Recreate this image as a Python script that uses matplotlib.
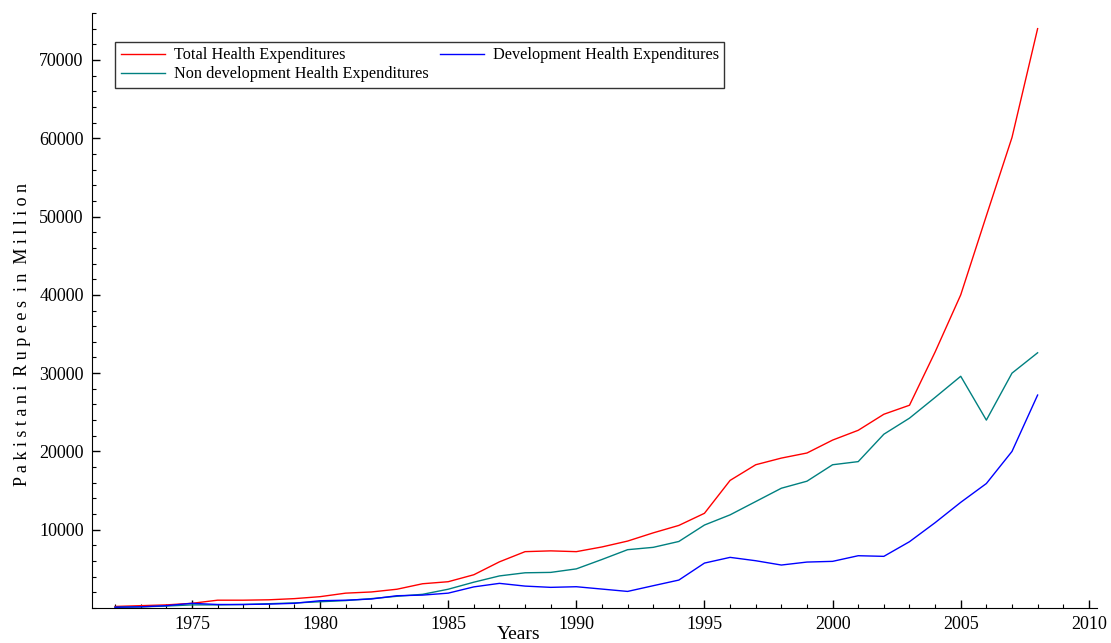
import matplotlib.pyplot as plt
from matplotlib.ticker import MultipleLocator, FixedLocator

years = list(range(1972, 2009))

total = [200, 300, 400, 600, 1000, 1000, 1050, 1200, 1450, 1900, 2050, 2400, 3100, 3360,
         4250, 5900, 7200, 7300, 7200, 7800, 8550, 9600, 10550, 12100, 16300, 18300, 19150,
         19800, 21450, 22700, 24750, 25900, 32700, 40000, 50100, 60100, 74000]

non_dev = [100, 150, 250, 400, 400, 450, 550, 650, 800, 950, 1200, 1500, 1750, 2400,
           3300, 4100, 4500, 4550, 5000, 6200, 7450, 7750, 8500, 10600, 11900, 13600, 15300,
           16200, 18300, 18700, 22200, 24250, 26900, 29600, 24000, 30000, 32600]

dev = [100, 150, 300, 600, 450, 450, 500, 600, 930, 1000, 1150, 1570, 1650, 1900,
       2700, 3150, 2800, 2640, 2720, 2420, 2120, 2850, 3570, 5740, 6470, 6040, 5490,
       5870, 5960, 6680, 6600, 8470, 10900, 13500, 15900, 20000, 27200]

plt.rcParams['font.family'] = ['Liberation Serif', 'DejaVu Serif']

fig = plt.figure(figsize=(11.11, 6.43), dpi=100)
ax = fig.add_axes([0.0828, 0.0544, 0.9042, 0.9254])

ax.plot(years, total, color='#ff0000', lw=1, label='Total Health Expenditures')
ax.plot(years, non_dev, color='#008080', lw=1, label='Non development Health Expenditures')
ax.plot(years, dev, color='#0000ff', lw=1, label='Development Health Expenditures')

ax.set_xlim(1971.1, 2010.3)
ax.set_ylim(0, 76000)

ax.spines['top'].set_visible(False)
ax.spines['right'].set_visible(False)

ax.xaxis.set_major_locator(MultipleLocator(5))
ax.xaxis.set_minor_locator(MultipleLocator(1))
ax.yaxis.set_major_locator(FixedLocator([10000, 20000, 30000, 40000, 50000, 60000, 70000]))
ax.yaxis.set_minor_locator(MultipleLocator(2000))
ax.tick_params(which='major', direction='in', length=6, width=1, labelsize=13, pad=6)
ax.tick_params(which='minor', direction='in', length=3, width=0.8)

ax.set_ylabel('P a k i s t a n i  R u p e e s  i n  M i l l i o n', fontsize=13)
ax.yaxis.set_label_coords(-0.061, 0.459)
ax.set_xlabel('Years', fontsize=14)
ax.xaxis.set_label_coords(0.425, -0.03)

leg = ax.legend(loc='upper left', bbox_to_anchor=(0.023, 0.952), ncol=2, fontsize=11.7,
                frameon=True, fancybox=False, edgecolor='black', borderpad=0.35,
                labelspacing=0.2, columnspacing=0.7, handlelength=2.7,
                handletextpad=0.55, borderaxespad=0)
leg.get_frame().set_linewidth(1)

fig.savefig('out.png', dpi=100)
